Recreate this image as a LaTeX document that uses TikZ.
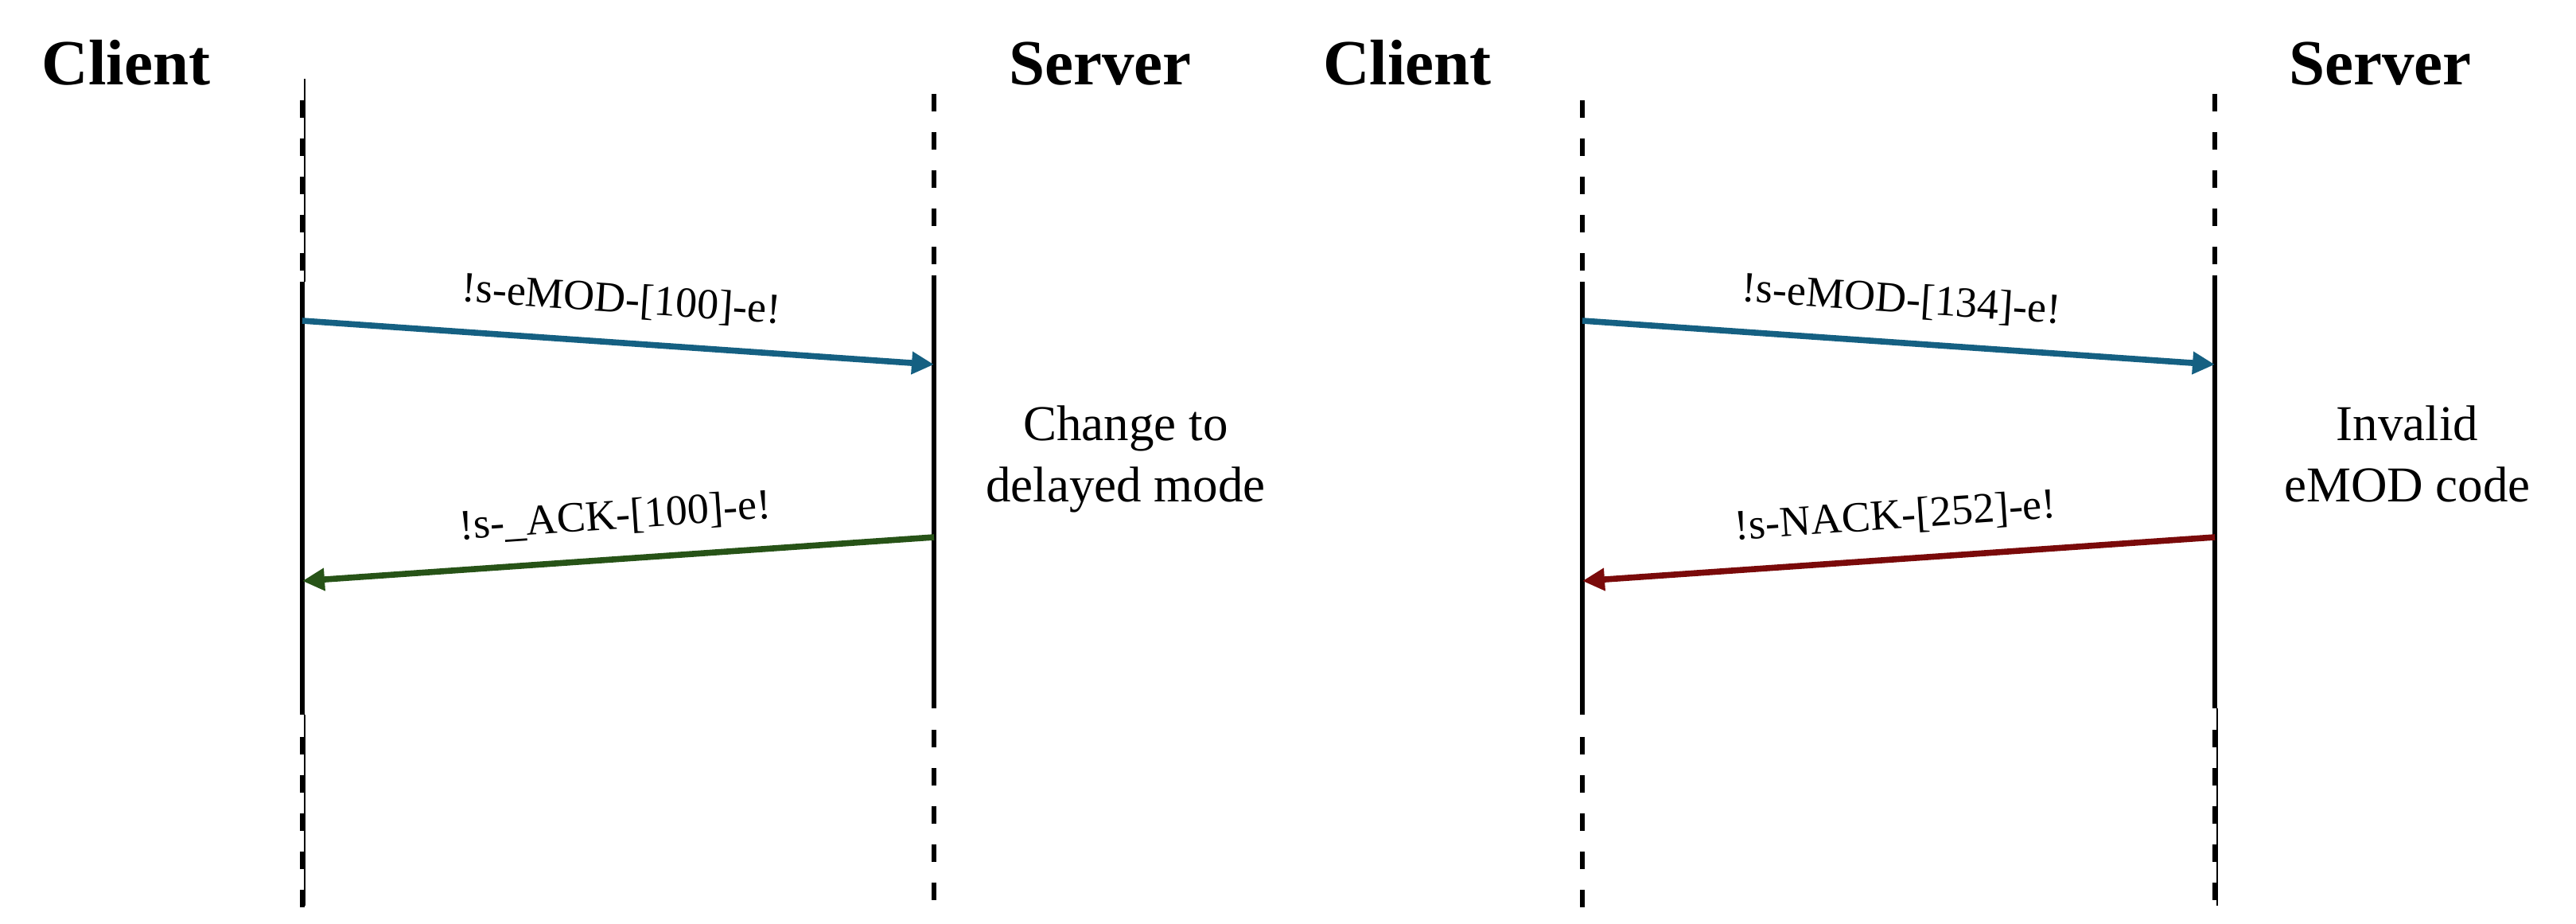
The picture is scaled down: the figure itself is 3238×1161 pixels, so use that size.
\documentclass[tikz,border=0pt]{standalone}
\usepackage{fontspec}
\setmainfont{Liberation Serif}
\usetikzlibrary{arrows.meta}
\definecolor{msgblue}{HTML}{156082}
\definecolor{msggreen}{HTML}{275317}
\definecolor{msgred}{HTML}{7A0A0A}
\begin{document}
\begin{tikzpicture}[x=0.5pt,y=-0.5pt,
  life/.style={line width=3.4pt,black},
  lifedash/.style={line width=3.4pt,black,dash pattern=on 11pt off 13pt},
  lifethin/.style={line width=0.75pt,black},
  msg/.style={line width=3.8pt,-{Triangle[length=14pt,width=13.5pt]}},
  msglabel/.style={font=\fontsize{27}{32}\selectfont,anchor=base,midway,sloped,yshift=19pt,inner sep=0pt},
  title/.style={font=\bfseries\fontsize{40.5}{48}\selectfont,anchor=base,inner sep=0pt},
  note/.style={font=\fontsize{31.5}{38}\selectfont,anchor=base,inner sep=0pt}]
\useasboundingbox (0,0) rectangle (3238,1161);

% titles
\node[title] (client1) at (158.5,106) {Client};
\node[title] (server1) at (1383,106) {Server};
\node[title] (client2) at (1769,106) {Client};
\node[title] (server2) at (2992,106) {Server};

% lifeline coordinates
\coordinate (c1top) at (380,126);
\coordinate (c1s) at (380,354);
\coordinate (c1e) at (380,898);
\coordinate (c1bot) at (380,1140);
\coordinate (s1top) at (1174,118);
\coordinate (s1s) at (1174,346);
\coordinate (s1e) at (1174,890);
\coordinate (s1bot) at (1174,1134);
\coordinate (c2top) at (1989,126);
\coordinate (c2s) at (1989,354);
\coordinate (c2e) at (1989,898);
\coordinate (c2bot) at (1989,1140);
\coordinate (s2top) at (2784,118);
\coordinate (s2s) at (2784,346);
\coordinate (s2e) at (2784,890);
\coordinate (s2bot) at (2784,1134);

% thin guide lines
\coordinate (t1a) at (383,99);
\coordinate (t1b) at (383,354);
\coordinate (t1c) at (383,898);
\coordinate (t1d) at (383,1138);
\coordinate (t2c) at (2787,890);
\coordinate (t2d) at (2787,1138);
\draw[lifethin] (t1a) -- (t1b);
\draw[lifethin] (t1c) -- (t1d);
\draw[lifethin] (t2c) -- (t2d);

% lifelines
\draw[lifedash] (c1top) -- (c1s);
\draw[life] (c1s) -- (c1e);
\draw[lifedash] ([yshift=-28*0.5pt]c1e) -- (c1bot);
\draw[lifedash] (s1top) -- (s1s);
\draw[life] (s1s) -- (s1e);
\draw[lifedash] ([yshift=-27*0.5pt]s1e) -- (s1bot);
\draw[lifedash] (c2top) -- (c2s);
\draw[life] (c2s) -- (c2e);
\draw[lifedash] ([yshift=-28*0.5pt]c2e) -- (c2bot);
\draw[lifedash] (s2top) -- (s2s);
\draw[life] (s2s) -- (s2e);
\draw[lifedash] ([yshift=-27*0.5pt]s2e) -- (s2bot);

% message end points
\coordinate (m1a) at (380,403);
\coordinate (m1b) at (1174,458);
\coordinate (m2a) at (1174,675);
\coordinate (m2b) at (380,730);
\coordinate (m3a) at (1989,403);
\coordinate (m3b) at (2784,458);
\coordinate (m4a) at (2784,675);
\coordinate (m4b) at (1989,730);

\draw[msg,msgblue] (m1a) -- (m1b) node[msglabel,black] (lab1) {!s-eMOD-[100]-e!};
\draw[msg,msggreen] (m2a) -- (m2b) node[msglabel,black] (lab2) {!s-\_ACK-[100]-e!};
\draw[msg,msgblue] (m3a) -- (m3b) node[msglabel,black] (lab3) {!s-eMOD-[134]-e!};
\draw[msg,msgred] (m4a) -- (m4b) node[msglabel,black] (lab4) {!s-NACK-[252]-e!};

% notes
\node[note] (note1a) at (1415,553) {Change to};
\node[note] (note1b) at (1415,630) {delayed mode};
\node[note] (note2a) at (3026,553) {Invalid};
\node[note] (note2b) at (3026,630) {eMOD code};
\end{tikzpicture}
\end{document}
